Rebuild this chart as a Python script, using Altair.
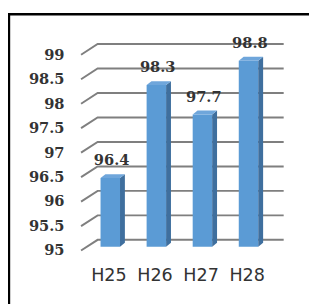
import altair as alt
import pandas as pd

# ---- data ----
categories = ["H25", "H26", "H27", "H28"]
values = [96.4, 98.3, 97.7, 98.8]
tick_values = [95, 95.5, 96, 96.5, 97, 97.5, 98, 98.5, 99]
tick_labels = ["95", "95.5", "96", "96.5", "97", "97.5", "98", "98.5", "99"]
base_value = 95

# ---- layout (pixels) ----
W, H = 309, 300
X0, XSTEP = 105.0, 47.3     # category 0 centre, px per category
Y0, YSTEP = 245.0, 50.25    # px of value 95 (front plane), px per unit

x_dom = [(0 - X0) / XSTEP, (W - X0) / XSTEP]
y_dom = [base_value + (Y0 - H) / YSTEP, base_value + Y0 / YSTEP]
xs = alt.Scale(domain=x_dom, zero=False, nice=False)
ys = alt.Scale(domain=y_dom, zero=False, nice=False)

fw = 10 / XSTEP      # half front width
sw = 5 / XSTEP       # side depth (x)
dz = 4 / YSTEP       # side depth (y)
off = 4 / YSTEP      # bar plane offset
g_front, g_back, g_end = -30 / XSTEP, -13 / XSTEP, 178 / XSTEP
g_dz = 11 / YSTEP

# ---- tables ----
front = pd.DataFrame({
    "cat": categories,
    "x": [i - fw for i in range(4)],
    "x2": [i + fw for i in range(4)],
    "y": [base_value + off] * 4,
    "y2": [v + off for v in values],
})

side_rows, top_rows = [], []
for i, (c, v) in enumerate(zip(categories, values)):
    t, b = v + off, base_value + off
    side_rows += [
        {"cat": c, "x": i + fw, "y": t, "y2": b},
        {"cat": c, "x": i + fw + sw, "y": t + dz, "y2": b + dz},
    ]
    top_rows += [
        {"cat": c, "x": i - fw, "y": t, "y2": t},
        {"cat": c, "x": i - fw + sw, "y": t + dz, "y2": t},
        {"cat": c, "x": i + fw, "y": t + dz, "y2": t},
        {"cat": c, "x": i + fw + sw, "y": t + dz, "y2": t + dz},
    ]
side = pd.DataFrame(side_rows)
top = pd.DataFrame(top_rows)

grid_rows = []
for tv in tick_values:
    grid_rows += [
        {"t": tv, "o": 0, "x": g_front, "y": tv},
        {"t": tv, "o": 1, "x": g_back, "y": tv + g_dz},
        {"t": tv, "o": 2, "x": g_end, "y": tv + g_dz},
    ]
grid = pd.DataFrame(grid_rows)

ylab = pd.DataFrame({"x": [-47 / XSTEP] * len(tick_values), "y": tick_values, "label": tick_labels})
vlab = pd.DataFrame({"x": [i + 0.03 for i in range(4)], "y": [v + off for v in values],
                     "label": [f"{v:.1f}" for v in values]})
xlab = pd.DataFrame({"x": [i - 0.03 for i in range(4)], "y": [base_value - 26 / YSTEP] * 4,
                     "label": categories})

X = lambda f="x": alt.X(f"{f}:Q", scale=xs, axis=None)
Y = lambda f="y": alt.Y(f"{f}:Q", scale=ys, axis=None)

grid_l = alt.Chart(grid).mark_line(color="#7f7f7f", strokeWidth=2).encode(
    x=X(), y=Y(), detail="t:N", order="o:Q")

front_l = alt.Chart(front).mark_rect(color="#5B9BD5").encode(
    x=X(), x2="x2:Q", y=Y(), y2="y2:Q")
side_l = alt.Chart(side).mark_area(color="#3F6F9E", opacity=1).encode(
    x=X(), y=Y(), y2="y2:Q", detail="cat:N")
top_l = alt.Chart(top).mark_area(color="#6FA6DB", opacity=1).encode(
    x=X(), y=Y(), y2="y2:Q", detail="cat:N")

ylab_l = alt.Chart(ylab).mark_text(
    align="right", baseline="middle", font="DejaVu Serif", fontWeight="bold",
    fontSize=15, color="#333333").encode(x=X(), y=Y(), text="label:N")
vlab_l = alt.Chart(vlab).mark_text(
    align="center", baseline="middle", dy=-18, font="DejaVu Serif", fontWeight="bold",
    fontSize=15, color="#333333").encode(x=X(), y=Y(), text="label:N")
xlab_l = alt.Chart(xlab).mark_text(
    align="center", baseline="middle", font="DejaVu Sans",
    fontSize=18, color="#333333").encode(x=X(), y=Y(), text="label:N")

border_v = alt.Chart(pd.DataFrame({"a": [0]})).mark_rule(color="black", strokeWidth=2.5).encode(
    x=alt.value(1), y=alt.value(2), y2=alt.value(H))
border_h = alt.Chart(pd.DataFrame({"a": [0]})).mark_rule(color="black", strokeWidth=2.5).encode(
    x=alt.value(0), x2=alt.value(W), y=alt.value(2.5))

chart = alt.layer(
    grid_l, front_l, side_l, top_l, ylab_l, vlab_l, xlab_l, border_v, border_h
).properties(
    width=W, height=H, autosize=alt.AutoSizeParams(type="none"), padding=0,
    background="white"
).configure_view(stroke=None)

chart.save("out.html", embed_options={"renderer": "svg", "actions": False})
